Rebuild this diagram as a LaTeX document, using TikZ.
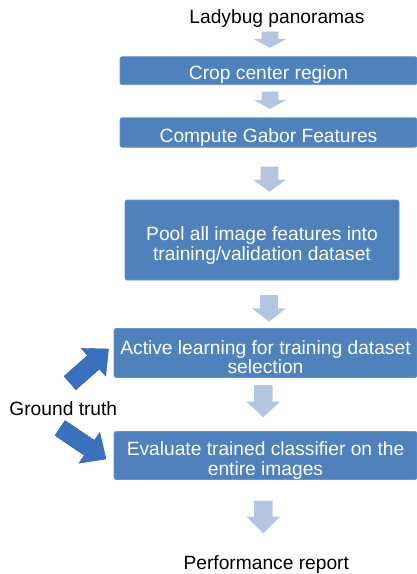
\documentclass[tikz,border=0pt]{standalone}
\usepackage{fontspec}
\setmainfont{Liberation Sans}
\usetikzlibrary{calc}
\definecolor{boxblue}{RGB}{79,129,189}
\definecolor{boxedge}{RGB}{108,148,203}
\definecolor{pale}{RGB}{180,197,225}
\definecolor{fatblue}{RGB}{58,113,190}
\definecolor{fatedge}{RGB}{45,92,160}
\tikzset{
  stepbox/.style={fill=boxblue, draw=boxedge, line width=0.6pt, rounded corners=2pt, inner sep=0pt},
  boxtext/.style={text=white, font=\fontsize{19.2}{19.5}\selectfont, align=center, inner sep=0pt},
  plaintext/.style={font=\fontsize{19.2}{19.5}\selectfont, text=black, inner sep=0pt},
  flowfill/.style={fill=pale},
  fatfill/.style={fill=fatblue, draw=fatedge, line width=0.4pt, line join=round},
}
% #1 style, #2 tail, #3 tip, #4 head length, #5 shaft half width, #6 head half width
\newcommand\blockarrow[6][flowfill]{%
  \path ($(#3)!#4pt!(#2)$) coordinate (ba-base);
  \path[#1] ($(#2)!#5pt!90:(#3)$) -- ($(ba-base)!#5pt!90:(#3)$)
    -- ($(ba-base)!#6pt!90:(#3)$) -- (#3)
    -- ($(ba-base)!#6pt!-90:(#3)$) -- ($(ba-base)!#5pt!-90:(#3)$)
    -- ($(#2)!#5pt!-90:(#3)$) -- cycle;
}
\begin{document}
\begin{tikzpicture}[x=1pt,y=-1pt]
\useasboundingbox[fill=white] (0,0) rectangle (417,574);

% texts
\node[plaintext, anchor=base] (top) at (277,23.3) {Ladybug panoramas};
\node[plaintext, anchor=base] (perf) at (266.3,569) {Performance report};
\node[plaintext, anchor=base] (gt) at (63.3,415) {Ground truth};

% boxes
\node[stepbox, minimum width=297, minimum height=28] (b1) at (268.5,70.7) {};
\node[stepbox, minimum width=297, minimum height=29.5] (b2) at (268.5,132.5) {};
\node[stepbox, minimum width=274, minimum height=80] (b3) at (262,240) {};
\node[stepbox, minimum width=303, minimum height=49] (b4) at (265.5,353) {};
\node[stepbox, minimum width=303, minimum height=48] (b5) at (265.5,455.5) {};

\node[boxtext] (t1) at ($(b1.center)+(0,4)$) {Crop center region};
\node[boxtext] (t2) at ($(b2.center)+(0,5)$) {Compute Gabor Features};
\node[boxtext] (t3) at ($(b3.center)+(0,5.5)$) {Pool all image features into\\training/validation dataset};
\node[boxtext] (t4) at ($(b4.center)+(0,4)$) {Active learning for training dataset\\selection};
\node[boxtext] (t5) at ($(b5.center)+(0,5)$) {Evaluate trained classifier on the\\entire images};

% light flow arrows
\coordinate (a1s) at (270,31.7);   \coordinate (a1e) at (270,47.7);
\coordinate (a2s) at (270,91.7);   \coordinate (a2e) at (270,109);
\coordinate (a3s) at (269.5,166.7); \coordinate (a3e) at (269.5,191.7);
\coordinate (a4s) at (269,295);    \coordinate (a4e) at (269,321.7);
\coordinate (a5s) at (263.3,385);  \coordinate (a5e) at (263.3,417.3);
\coordinate (a6s) at (263.3,500.7); \coordinate (a6e) at (263.3,533.3);
\blockarrow{a1s}{a1e}{8.5}{8.3}{16}
\blockarrow{a2s}{a2e}{9}{8.3}{16}
\blockarrow{a3s}{a3e}{12}{8.8}{16.5}
\blockarrow{a4s}{a4e}{13.4}{8.8}{17}
\blockarrow{a5s}{a5e}{15.6}{9.2}{16.7}
\blockarrow{a6s}{a6e}{16.6}{9.2}{16.7}

% ground truth arrows
\coordinate (g1s) at (70,383);  \coordinate (g1e) at (108.5,349);
\coordinate (g2s) at (60,428);  \coordinate (g2e) at (106,459);
\blockarrow[fatfill]{g1s}{g1e}{20}{9}{18.5}
\blockarrow[fatfill]{g2s}{g2e}{20}{9}{18.5}
\end{tikzpicture}
\end{document}
